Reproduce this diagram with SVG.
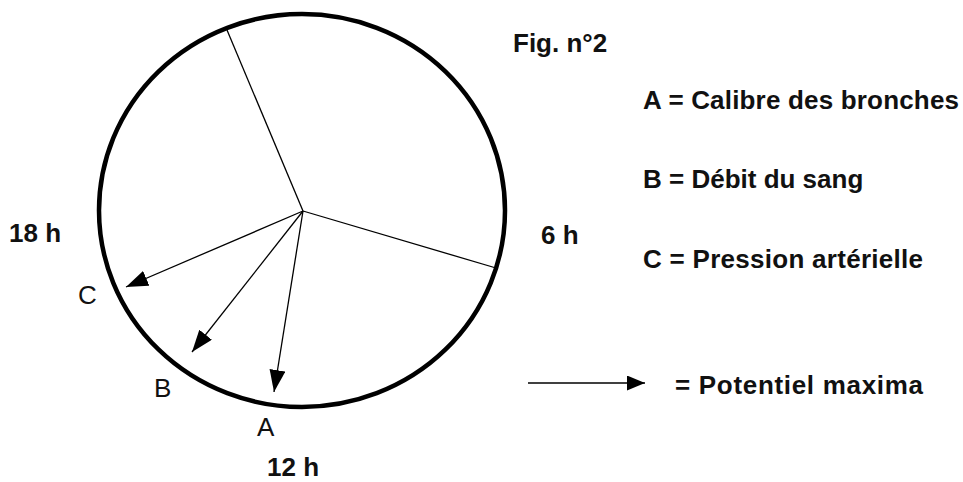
<svg xmlns="http://www.w3.org/2000/svg" width="963" height="482" viewBox="0 0 963 482">
<style>
.b{font-family:"Liberation Sans",Arial,sans-serif;font-weight:bold;font-size:26px;fill:#111}
.r{font-family:"Liberation Sans",Arial,sans-serif;font-size:26px;fill:#111}
.ln{stroke:#000;stroke-width:1.3;fill:none}
</style>
<defs>
<marker id="ah" viewBox="0 0 22 16" refX="22" refY="8" markerWidth="22" markerHeight="16" markerUnits="userSpaceOnUse" orient="auto">
<path d="M0,0 L22,8 L0,16 Z" fill="#000"/>
</marker>
<marker id="ah2" viewBox="0 0 18 15" refX="18" refY="7.5" markerWidth="18" markerHeight="15" markerUnits="userSpaceOnUse" orient="auto">
<path d="M0,0 L18,7.5 L0,15 Z" fill="#000"/>
</marker>
</defs>
<rect width="963" height="482" fill="#fff"/>
<g id="clock">
<ellipse cx="302" cy="210.5" rx="203" ry="196.5" fill="none" stroke="#000" stroke-width="4.5"/>
</g>
<g id="connectors">
<line class="ln" x1="303" y1="211" x2="227" y2="30"/>
<line class="ln" x1="303" y1="211" x2="496" y2="268"/>
<line class="ln" x1="303" y1="211" x2="126" y2="287" marker-end="url(#ah)"/>
<line class="ln" x1="303" y1="211" x2="192" y2="352" marker-end="url(#ah)"/>
<line class="ln" x1="303" y1="211" x2="274" y2="392" marker-end="url(#ah)"/>
<line class="ln" x1="528" y1="383" x2="645" y2="383" stroke-width="1.6" marker-end="url(#ah2)"/>
</g>
<g id="labels">
<text class="b" x="513" y="52">Fig. n°2</text>
<text class="b" x="643" y="109" textLength="316">A = Calibre des bronches</text>
<text class="b" x="643" y="188">B = Débit du sang</text>
<text class="b" x="643" y="268" textLength="280">C = Pression artérielle</text>
<text class="b" x="541" y="244">6 h</text>
<text class="b" x="9" y="242">18 h</text>
<text class="b" x="267" y="476">12 h</text>
<text class="r" x="78" y="304">C</text>
<text class="r" x="154" y="397">B</text>
<text class="r" x="257" y="436">A</text>
<text class="b" x="675" y="394" textLength="248">= Potentiel maxima</text>
</g>
</svg>
